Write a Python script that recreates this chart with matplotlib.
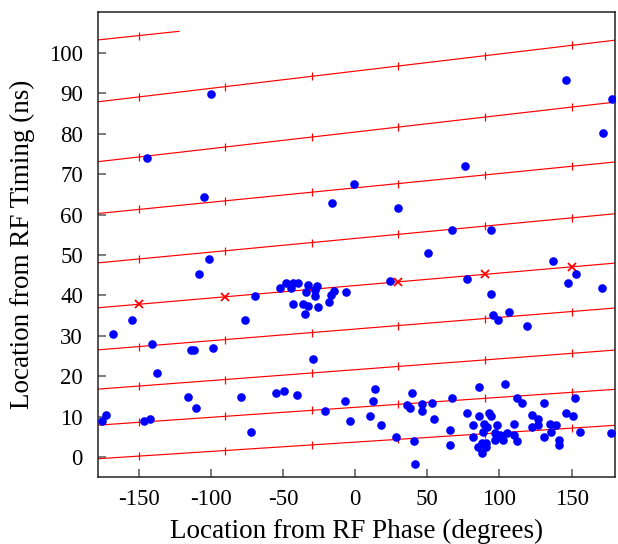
import numpy as np
import matplotlib
matplotlib.use("Agg")
import matplotlib.pyplot as plt

plt.rcParams['font.family'] = ['Liberation Serif', 'DejaVu Serif']
plt.rcParams['axes.unicode_minus'] = False

# RF spiral: timing (ns) where each turn starts (phase -180 deg)
turn_start_ns = [-0.4, 7.9, 16.8, 26.5, 36.9, 48.0, 60.2, 73.0, 87.8, 103.1]
last_turn_end_deg = -122.0
last_turn_end_ns = 105.3
tick_phases = [-150, -90, -30, 30, 90, 150]
marked_turn = 4

phase_deg = [
    -100.1, -144.0, -104.9, -1.1, 145.9, 177.8, 172.0, 76.3, -15.9, 29.8,
    66.9, 94.1, 50.5, -101.2, -108.2, 137.3, 24.3, 77.5, 152.8, 147.3,
    170.9, 94.1, 95.3, 99.2, 106.6, 118.9, -69.6, -154.4, -76.5,
    -52.0, -48.1, -43.2, -39.3, -44.5, -43.1, -36.4, -32.4, -34.9, -33.8,
    -32.5, -27.9, -26.5, -27.5, -25.8, -14.5, -16.7, -18.3, -6.0,
    -167.8, -140.8, -113.5, -111.8, -98.7, -137.0, -29.5,
    -115.8, -110.5, -79.0, -54.5, -49.2, -40.5, -72.0, -175.5, -172.4, -146.4, -141.9,
    -21.0, -7.1, -3.7, 10.2, 12.5, 13.9, 17.7, 28.6, 35.6, 37.9,
    39.3, 40.7, 41.6, 46.0, 46.0, 53.4, 54.8, 65.7, 65.7, 67.1,
    77.5, 81.4, 81.6, 85.6, 85.6, 85.3, 87.7, 87.9, 88.3, 89.3,
    91.1, 90.6, 90.4, 92.7, 93.9, 96.9, 96.9, 98.1, 100.3, 102.6,
    104.0, 105.4, 110.3, 110.3, 112.1, 112.3, 115.8, 122.3, 122.3, 126.5,
    126.5, 131.1, 131.1, 135.0, 135.5, 139.2, 141.1, 141.1, 146.1, 150.8,
    152.6, 156.0, 177.5,
]
timing_ns = [
    89.7, 73.9, 64.3, 67.6, 93.3, 88.6, 80.1, 72.0, 62.9, 61.5,
    56.3, 56.3, 50.4, 49.1, 45.3, 48.4, 43.6, 44.1, 45.3, 43.1,
    41.9, 40.4, 35.1, 34.0, 36.0, 32.4, 39.8, 34.0, 34.0,
    41.9, 43.2, 43.2, 43.2, 41.9, 37.9, 37.9, 37.3, 35.5, 40.9,
    42.5, 39.9, 42.3, 41.4, 37.2, 41.2, 40.0, 38.4, 40.9,
    30.4, 28.1, 26.6, 26.6, 26.9, 20.8, 24.4,
    14.8, 12.1, 14.8, 15.9, 16.4, 15.4, 6.3, 8.9, 10.4, 8.9, 9.5,
    11.5, 14.0, 8.9, 10.2, 14.0, 16.9, 8.0, 4.9, 12.9, 12.1,
    16.0, 4.1, -1.7, 13.1, 11.5, 13.5, 9.5, 6.8, 3.0, 14.6,
    10.9, 8.0, 4.9, 17.4, 10.2, 2.5, 3.5, 1.0, 6.3, 8.2,
    7.6, 3.6, 2.5, 11.0, 10.2, 6.1, 4.3, 8.0, 5.5, 4.3,
    18.1, 6.1, 8.2, 5.5, 14.7, 4.1, 13.5, 10.4, 7.4, 9.5,
    8.0, 13.5, 4.9, 8.2, 6.2, 8.0, 4.3, 3.0, 11.0, 10.2,
    14.6, 6.3, 6.1,
]

fig = plt.figure(figsize=(6.18, 5.44), dpi=100)
ax = fig.add_axes([0.159, 0.1237, 0.836, 0.8537])

n_turns = len(turn_start_ns)
for i in range(n_turns):
    if i < n_turns - 1:
        xs = [-180.0, 180.0]
        ys = [turn_start_ns[i], turn_start_ns[i + 1]]
    else:
        xs = [-180.0, last_turn_end_deg]
        ys = [turn_start_ns[i], last_turn_end_ns]
    ax.plot(xs, ys, color='red', lw=0.85, zorder=2)
    tp = [p for p in tick_phases if xs[0] <= p <= xs[1]]
    ty = np.interp(tp, xs, ys)
    if i == marked_turn:
        ax.plot(tp, ty, ls='none', marker='x', color='red', ms=5.5, mew=1.3, zorder=3)
    else:
        ax.plot(tp, ty, ls='none', marker='|', color='red', ms=5.5, mew=0.9, zorder=3)

ax.plot(phase_deg, timing_ns, ls='none', marker='o', color='#0000ff', ms=6.2, mew=0, zorder=4)

ax.set_xlim(-178, 180)
ax.set_ylim(-4.8, 110)
ax.set_xticks([-150, -100, -50, 0, 50, 100, 150])
ax.set_yticks(list(range(0, 101, 10)))
ax.tick_params(axis='both', direction='in', length=5.5, width=1.2, color='#666666',
               labelsize=16.5, pad=11, top=False, right=False)
ax.tick_params(axis='x', pad=9)
for s in ax.spines.values():
    s.set_color('#222222')
    s.set_linewidth(1.1)
ax.set_xlabel('Location from RF Phase (degrees)', fontsize=19.5, labelpad=6)
ax.set_ylabel('Location from RF Timing (ns)', fontsize=19.5, labelpad=10)

fig.savefig('out.png', dpi=100)
